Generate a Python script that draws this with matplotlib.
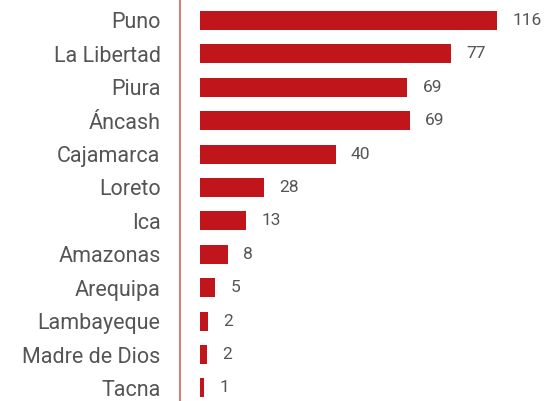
"""
Horizontal bar chart by region (Peru).
"""

import matplotlib.pyplot as plt

regions = [
    "Puno", "La Libertad", "Piura", "Áncash", "Cajamarca", "Loreto",
    "Ica", "Amazonas", "Arequipa", "Lambayeque", "Madre de Dios", "Tacna",
]
# values printed next to each bar
values = [116, 77, 69, 69, 40, 28, 13, 8, 5, 2, 2, 1]
# bar lengths as drawn in the source chart (it is not drawn to the labels' scale)
bar_lengths = [116, 98, 81, 82, 53, 25, 18, 11, 6, 3, 2.7, 1.5]

BAR_COLOR = "#c0151a"
TEXT_COLOR = "#555555"

plt.rcParams["font.family"] = ["Roboto", "DejaVu Sans"]


def main():
    fig = plt.figure(figsize=(5.46, 4.01), dpi=100)
    ax = fig.add_axes([180 / 546, 0, 366 / 546, 1])

    ys = range(len(regions))
    ax.barh(ys, bar_lengths, height=0.57, color=BAR_COLOR)

    for y, w, v in zip(ys, bar_lengths, values):
        ax.annotate(str(v), (w, y), xytext=(11, 0), textcoords="offset points",
                    va="center", ha="left", fontsize=12.5, color=TEXT_COLOR)

    ax.set_yticks(list(ys))
    ax.set_yticklabels(regions, fontsize=15.5, color=TEXT_COLOR)
    ax.tick_params(axis="y", length=0, pad=14)
    ax.set_xticks([])
    ax.set_xlim(-7.8, 135.2)
    ax.set_ylim(11.39, -0.61)

    for side in ["top", "right", "bottom"]:
        ax.spines[side].set_visible(False)
    ax.spines["left"].set_color("#e06a6a")
    ax.spines["left"].set_linewidth(1.3)

    fig.savefig("out.png", dpi=100)


if __name__ == "__main__":
    main()
